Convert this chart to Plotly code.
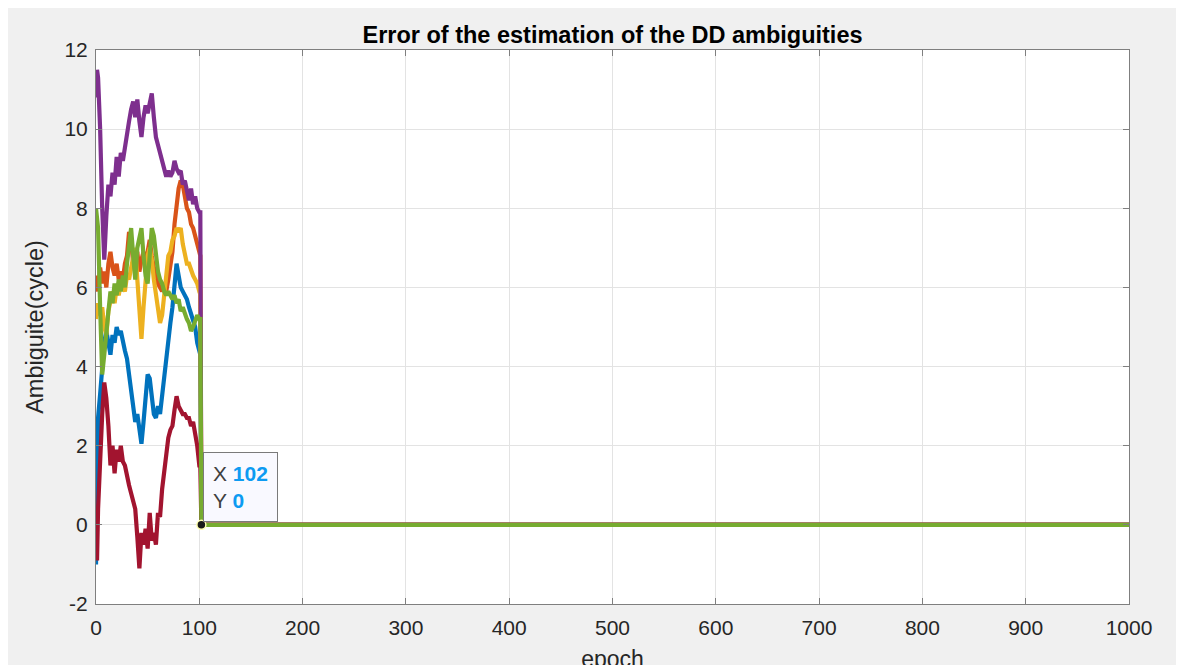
import plotly.graph_objects as go

# ---------------- data ----------------
epochs = [0, 1] + list(range(2, 101, 2)) + [101]

blue = [-1.0, 2.6,
        2.7, 3.3, 4.0, 4.6, 4.9, 4.5, 4.3, 4.8, 4.6, 5.0,
        4.8, 4.9, 4.6, 4.4, 4.2, 3.8, 3.4, 3.0, 2.6, 2.8,
        2.3, 2.05, 2.6, 3.4, 3.8, 3.7, 3.2, 2.8, 2.7, 3.0,
        2.8, 3.3, 3.7, 4.2, 4.6, 5.1, 5.5, 6.2, 6.6, 6.3,
        6.0, 5.9, 5.8, 5.7, 5.5, 5.3, 5.1, 5.0, 4.6, 4.3,
        4.3]
orange = [6.3, 6.1,
          5.9, 6.5, 6.1, 6.4, 6.0, 6.6, 6.9, 6.5, 6.3, 6.6,
          6.2, 6.4, 6.2, 6.6, 6.8, 7.4, 7.2, 6.6, 6.5, 6.9,
          6.4, 6.7, 6.9, 6.6, 7.0, 7.2, 6.8, 6.5, 6.4, 6.1,
          6.0, 5.9, 6.1, 5.9, 6.2, 6.6, 6.9, 7.6, 8.2, 8.5,
          8.7, 8.6, 8.3, 8.0, 7.9, 7.6, 7.5, 7.3, 7.0, 6.8,
          6.8]
yellow = [5.2, 5.4,
          5.6, 5.3, 5.5, 5.0, 4.8, 5.4, 5.7, 5.9, 5.6, 6.0,
          5.8, 6.1, 6.0, 5.9, 6.3, 6.2, 6.5, 6.8, 7.0, 6.2,
          5.3, 4.7, 5.5, 6.3, 6.8, 7.0, 6.7, 6.2, 5.8, 5.3,
          5.1, 5.3, 5.8, 6.3, 6.8, 6.9, 7.2, 7.3, 7.5, 7.4,
          7.5, 7.1, 6.9, 6.6, 6.6, 6.4, 6.3, 6.2, 6.1, 5.9,
          5.9]
purple = [10.8, 11.5,
          11.3, 10.0, 8.0, 6.7, 7.8, 8.6, 8.3, 8.9, 8.6, 9.3,
          8.8, 9.4, 9.2, 9.6, 10.0, 10.2, 10.5, 10.7, 10.3, 10.75,
          10.2, 9.8, 10.3, 10.6, 10.4, 10.7, 10.9, 10.3, 9.8, 9.6,
          9.4, 9.1, 8.9, 8.8, 8.95, 8.8, 8.9, 9.2, 9.0, 8.9,
          8.95, 8.6, 8.7, 8.4, 8.2, 8.5, 8.1, 8.3, 8.0, 7.9,
          7.9]
green = [8.0, 7.8,
         7.5, 5.5, 3.8, 4.3, 5.0, 5.4, 5.9, 5.6, 6.1, 5.8,
         6.2, 5.9, 6.3, 6.0, 6.6, 7.0, 7.5, 6.8, 6.2, 7.0,
         7.3, 7.5, 6.8, 6.3, 6.1, 7.0, 7.5, 7.3, 6.8, 6.4,
         6.2, 6.1, 5.9, 5.8, 5.9, 5.8, 5.7, 5.8, 5.6, 5.7,
         5.4, 5.5, 5.3, 5.2, 5.1, 4.9, 5.0, 5.2, 5.3, 5.2,
         5.2]
red = [-0.6, -0.9,
       0.4, 1.8, 2.8, 3.6, 3.2, 2.5, 1.5, 2.0, 1.3, 1.9,
       1.6, 2.0, 1.6, 1.5, 1.2, 1.0, 0.8, 0.6, 0.4, -0.3,
       -1.1, -0.2, -0.5, -0.1, -0.6, 0.3, -0.4, -0.2, -0.5, 0.3,
       0.2, 0.9, 1.4, 1.9, 2.2, 2.4, 2.5, 2.9, 3.25, 3.0,
       2.9, 2.8, 2.8, 2.7, 2.7, 2.5, 2.6, 2.3, 2.0, 1.5,
       1.5]

# after convergence every ambiguity error is zero
tail_epochs = [102, 1000]
tail_values = [0, 0]

tip_x, tip_y = 102, 0

x_ticks = list(range(0, 1001, 100))
y_ticks = list(range(-2, 13, 2))
y_tick_text = [str(v) for v in y_ticks]

series = [
    ("blue", blue, "#0072BD"),
    ("orange", orange, "#D95319"),
    ("yellow", yellow, "#EDB120"),
    ("purple", purple, "#7E2F8E"),
    ("red", red, "#A2142F"),
    ("green", green, "#77AC30"),
]

FONT = "Arial, Liberation Sans, Helvetica, sans-serif"

fig = go.Figure()
for name, vals, col in series:
    fig.add_trace(go.Scatter(
        x=epochs + tail_epochs, y=vals + tail_values,
        mode="lines", name=name,
        line=dict(color=col, width=4.2),
        showlegend=False, hoverinfo="skip"))

# datatip marker
fig.add_trace(go.Scatter(
    x=[tip_x], y=[tip_y], mode="markers",
    marker=dict(color="#1a1a1a", size=9, line=dict(color="#ffffb0", width=1.5)),
    showlegend=False, hoverinfo="skip", cliponaxis=False))

fig.add_annotation(
    x=tip_x, y=tip_y, xref="x", yref="y",
    text=("X <b><span style='color:#0d9bf2'>%d</span></b><br>"
          "Y <b><span style='color:#0d9bf2'>%d</span></b>") % (tip_x, tip_y),
    showarrow=False, xanchor="left", yanchor="bottom",
    xshift=2, yshift=3, align="left",
    font=dict(family=FONT, size=21, color="#404040"),
    bgcolor="#f9f9ff", bordercolor="#7a7a7a", borderwidth=1, borderpad=9)

axis_common = dict(
    showgrid=True, gridcolor="#e3e3e3", gridwidth=1,
    showline=True, linecolor="#7f7f7f", linewidth=1, mirror="ticks",
    ticks="inside", ticklen=6, tickcolor="#7f7f7f",
    zeroline=False, automargin=False,
    tickfont=dict(family=FONT, size=21, color="#262626"),
)

fig.update_xaxes(range=[0, 1000], tickvals=x_ticks, ticklabelstandoff=5,
                 **axis_common,
                 title=dict(text="epoch", standoff=12,
                            font=dict(family=FONT, size=23, color="#262626")))
fig.update_yaxes(range=[-2, 12], tickvals=y_ticks, ticktext=y_tick_text,
                 ticklabelstandoff=3, **axis_common,
                 title=dict(text="Ambiguite(cycle)", standoff=14,
                            font=dict(family=FONT, size=23.5, color="#262626")))

# page body adds 8px offset; plot area in window: x 96..1129, y 50..604
fig.update_layout(
    width=1184, height=665,
    margin=dict(l=88, r=63, t=42, b=69, autoexpand=False),
    paper_bgcolor="#f0f0f0", plot_bgcolor="#ffffff",
    title=dict(text="<b>Error of the estimation of the DD ambiguities</b>",
               x=(88 + 1121) / 2 / 1184, xanchor="center",
               y=1 - 27 / 665, yanchor="middle",
               font=dict(family=FONT, size=23.5, color="#000000")),
)

fig.write_html("out.html")
